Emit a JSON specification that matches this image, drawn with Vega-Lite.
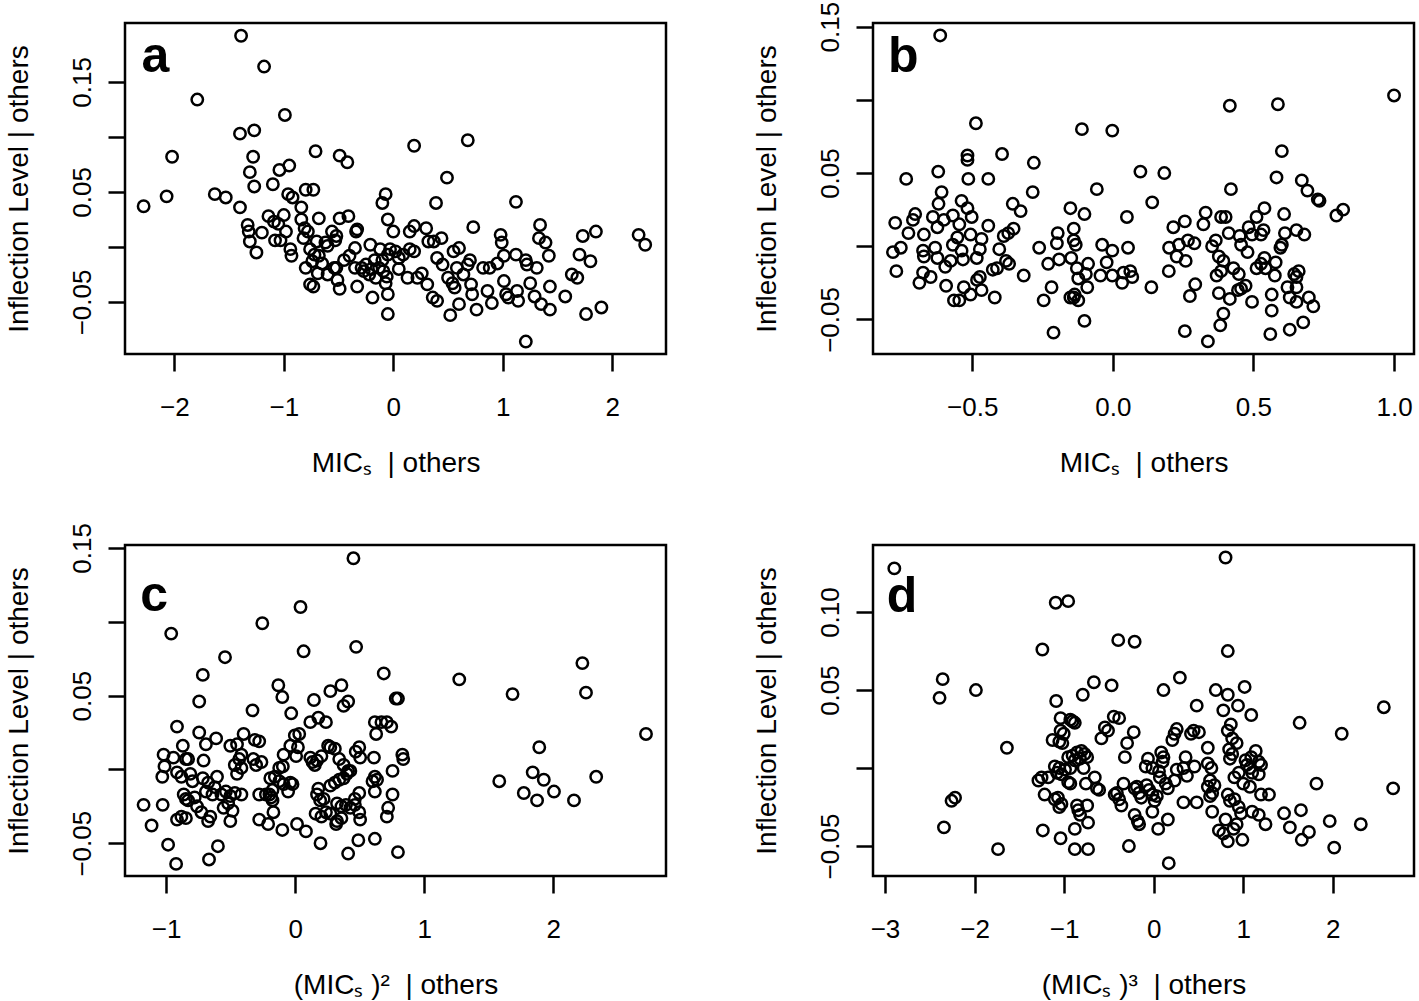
{
"$schema": "https://vega.github.io/schema/vega-lite/v6.json",
"background": "white",
"padding": {"left": 3, "top": 0, "right": 2, "bottom": 0},
"config": {
 "font": "Liberation Sans",
 "view": {"stroke": "black", "strokeWidth": 2.5},
 "axis": {"domain": false, "grid": false, "tickColor": "black", "tickWidth": 2.5, "tickSize": 17, "labelFont": "Liberation Sans", "labelFontSize": 26, "labelColor": "black", "titleFont": "Liberation Sans", "titleFontSize": 28, "titleFontWeight": "normal", "titleColor": "black", "labelOverlap": false, "labelFlush": false},
 "axisX": {"labelPadding": 23, "titlePadding": 29},
 "axisY": {"labelAngle": -90, "labelAlign": "center", "labelBaseline": "alphabetic", "labelPadding": 18, "titlePadding": 36}
},
"datasets": {
"a": [
{"x":-2.28,"y":0.037},{"x":-2.07,"y":0.046},{"x":-2.02,"y":0.082},{"x":-1.79,"y":0.134},{"x":-1.63,"y":0.048},{"x":-1.53,"y":0.045},{"x":-1.39,"y":0.192},{"x":-1.40,"y":0.103},{"x":-1.27,"y":0.106},{"x":-1.40,"y":0.036},{"x":-1.18,"y":0.164},{"x":-0.99,"y":0.120},{"x":-1.28,"y":0.082},{"x":-1.31,"y":0.068},{"x":-1.27,"y":0.055},{"x":-1.10,"y":0.057},{"x":-1.04,"y":0.070},{"x":-0.95,"y":0.074},{"x":-0.71,"y":0.087},{"x":-0.49,"y":0.083},{"x":-0.42,"y":0.077},{"x":0.19,"y":0.092},{"x":0.68,"y":0.097},{"x":0.49,"y":0.063},{"x":1.12,"y":0.041},{"x":0.39,"y":0.040},{"x":-0.07,"y":0.048},{"x":-0.10,"y":0.040},{"x":-0.80,"y":0.052},{"x":-0.73,"y":0.052},{"x":-0.96,"y":0.048},{"x":-0.92,"y":0.045},{"x":-0.84,"y":0.036},
{"x":-1.33,"y":0.020},{"x":-1.32,"y":0.014},{"x":-1.31,"y":0.005},{"x":-1.25,"y":-0.005},{"x":-1.20,"y":0.013},{"x":-1.14,"y":0.028},{"x":-1.09,"y":0.023},{"x":-1.00,"y":0.029},{"x":-1.05,"y":0.021},{"x":-0.98,"y":0.014},{"x":-1.08,"y":0.006},{"x":-1.03,"y":0.006},{"x":-0.94,"y":-0.002},{"x":-0.93,"y":-0.008},
{"x":-0.84,"y":0.025},{"x":-0.81,"y":0.017},{"x":-0.78,"y":0.014},{"x":-0.82,"y":0.008},{"x":-0.76,"y":-0.002},{"x":-0.72,"y":-0.007},{"x":-0.68,"y":-0.008},{"x":-0.74,"y":-0.013},{"x":-0.80,"y":-0.019},{"x":-0.69,"y":-0.024},{"x":-0.76,"y":-0.034},{"x":-0.73,"y":-0.036},{"x":-0.68,"y":0.026},{"x":-0.70,"y":0.005},{"x":-0.60,"y":0.001},{"x":-0.56,"y":0.014},{"x":-0.52,"y":0.010},{"x":-0.53,"y":0.006},{"x":-0.49,"y":0.026},{"x":-0.41,"y":0.028},{"x":-0.34,"y":0.014},{"x":-0.33,"y":0.016},{"x":-0.35,"y":-0.001},{"x":-0.40,"y":-0.008},{"x":-0.52,"y":-0.019},{"x":-0.51,"y":-0.030},{"x":-0.49,"y":-0.038},{"x":-0.33,"y":-0.036},{"x":-0.60,"y":-0.025},{"x":-0.54,"y":-0.019},{"x":-0.65,"y":-0.015},{"x":-0.62,"y":0.004},{"x":-0.45,"y":-0.012},
{"x":-0.35,"y":-0.019},{"x":-0.29,"y":-0.019},{"x":-0.25,"y":-0.016},{"x":-0.21,"y":0.002},{"x":-0.17,"y":-0.012},{"x":-0.12,"y":-0.002},{"x":-0.13,"y":-0.019},{"x":-0.09,"y":-0.022},{"x":-0.06,"y":-0.027},{"x":-0.05,"y":-0.007},{"x":-0.07,"y":-0.033},{"x":-0.03,"y":-0.002},{"x":0.02,"y":-0.004},{"x":0.05,"y":-0.010},{"x":0.09,"y":-0.007},{"x":0.15,"y":-0.002},{"x":0.19,"y":-0.004},{"x":0.13,"y":-0.028},{"x":0.22,"y":-0.028},{"x":0.26,"y":-0.024},{"x":0.31,"y":-0.034},{"x":0.36,"y":-0.046},{"x":0.40,"y":-0.049},{"x":0.32,"y":0.005},{"x":0.37,"y":0.005},{"x":0.44,"y":0.008},{"x":-0.05,"y":0.025},{"x":0.00,"y":0.014},{"x":0.15,"y":0.014},{"x":0.19,"y":0.019},{"x":0.30,"y":0.017},{"x":-0.05,"y":-0.043},{"x":-0.05,"y":-0.061},{"x":-0.19,"y":-0.046},{"x":-0.27,"y":-0.022},{"x":-0.22,"y":-0.025},{"x":-0.16,"y":-0.028},{"x":-0.20,"y":-0.020},{"x":-0.10,"y":-0.012},{"x":0.05,"y":-0.020},
{"x":0.40,"y":-0.010},{"x":0.45,"y":-0.016},{"x":0.50,"y":-0.028},{"x":0.54,"y":-0.033},{"x":0.56,"y":-0.037},{"x":0.52,"y":-0.062},{"x":0.60,"y":-0.052},{"x":0.55,"y":-0.004},{"x":0.60,"y":-0.001},{"x":0.58,"y":-0.019},{"x":0.64,"y":-0.025},{"x":0.68,"y":-0.016},{"x":0.70,"y":-0.012},{"x":0.73,"y":0.018},{"x":0.71,"y":-0.034},{"x":0.72,"y":-0.043},{"x":0.76,"y":-0.057},{"x":0.82,"y":-0.019},{"x":0.86,"y":-0.040},{"x":0.88,"y":-0.019},{"x":0.90,"y":-0.051},{"x":0.95,"y":-0.015},{"x":0.98,"y":0.011},{"x":0.99,"y":0.004},{"x":1.01,"y":-0.008},{"x":1.03,"y":-0.043},{"x":1.01,"y":-0.031},{"x":1.05,"y":-0.046},{"x":1.12,"y":-0.007},{"x":1.13,"y":-0.040},{"x":1.14,"y":-0.049},{"x":1.21,"y":-0.012},{"x":1.22,"y":-0.016},{"x":1.25,"y":-0.033},{"x":1.29,"y":-0.045},{"x":1.31,"y":-0.019},{"x":1.34,"y":0.020},{"x":1.33,"y":0.008},{"x":1.39,"y":0.004},{"x":1.42,"y":-0.008},{"x":1.35,"y":-0.052},{"x":1.43,"y":-0.057},{"x":1.43,"y":-0.036},{"x":1.21,"y":-0.086},
{"x":1.57,"y":-0.045},{"x":1.63,"y":-0.025},{"x":1.68,"y":-0.028},{"x":1.70,"y":-0.007},{"x":1.73,"y":0.010},{"x":1.80,"y":-0.013},{"x":1.85,"y":0.014},{"x":1.76,"y":-0.061},{"x":1.90,"y":-0.055},{"x":2.24,"y":0.011},{"x":2.30,"y":0.002}
],
"b": [
{"x":-0.614,"y":0.144},{"x":1.000,"y":0.103},{"x":0.416,"y":0.096},{"x":0.587,"y":0.097},{"x":-0.487,"y":0.084},{"x":-0.110,"y":0.080},{"x":-0.002,"y":0.079},{"x":0.601,"y":0.065},{"x":-0.517,"y":0.062},{"x":-0.517,"y":0.059},{"x":-0.394,"y":0.063},{"x":-0.281,"y":0.057},{"x":-0.735,"y":0.046},{"x":-0.621,"y":0.051},{"x":-0.514,"y":0.046},{"x":-0.443,"y":0.046},{"x":0.098,"y":0.051},{"x":0.183,"y":0.050},{"x":0.582,"y":0.047},{"x":0.672,"y":0.045},{"x":0.420,"y":0.039},{"x":0.692,"y":0.038},{"x":0.729,"y":0.032},{"x":0.735,"y":0.031},{"x":-0.057,"y":0.039},{"x":-0.285,"y":0.037},{"x":-0.609,"y":0.037},{"x":-0.620,"y":0.029},{"x":-0.538,"y":0.031},{"x":-0.517,"y":0.026},{"x":-0.502,"y":0.020},{"x":-0.356,"y":0.029},{"x":-0.328,"y":0.024},{"x":0.140,"y":0.030},{"x":-0.151,"y":0.026},{"x":-0.101,"y":0.022},{"x":0.050,"y":0.020},{"x":0.330,"y":0.023},{"x":0.385,"y":0.020},{"x":0.401,"y":0.020},{"x":0.539,"y":0.026},{"x":0.511,"y":0.020},{"x":0.609,"y":0.022},{"x":0.795,"y":0.021},{"x":0.819,"y":0.025},
{"x":-0.774,"y":0.016},{"x":-0.703,"y":0.022},{"x":-0.711,"y":0.018},{"x":-0.727,"y":0.009},{"x":-0.782,"y":-0.004},{"x":-0.754,"y":-0.001},{"x":-0.770,"y":-0.017},{"x":-0.640,"y":0.020},{"x":-0.624,"y":0.013},{"x":-0.672,"y":0.008},{"x":-0.675,"y":-0.003},{"x":-0.672,"y":-0.007},{"x":-0.632,"y":-0.001},{"x":-0.624,"y":-0.008},{"x":-0.675,"y":-0.018},{"x":-0.688,"y":-0.025},{"x":-0.648,"y":-0.021},{"x":-0.596,"y":-0.014},{"x":-0.593,"y":-0.027},{"x":-0.601,"y":0.018},{"x":-0.569,"y":0.021},{"x":-0.546,"y":0.015},{"x":-0.553,"y":0.006},{"x":-0.569,"y":0.001},{"x":-0.577,"y":-0.010},{"x":-0.538,"y":-0.003},{"x":-0.533,"y":-0.009},{"x":-0.506,"y":0.008},{"x":-0.467,"y":0.005},{"x":-0.443,"y":0.014},{"x":-0.473,"y":-0.002},{"x":-0.484,"y":-0.008},{"x":-0.473,"y":-0.021},{"x":-0.483,"y":-0.023},{"x":-0.467,"y":-0.030},{"x":-0.530,"y":-0.028},{"x":-0.506,"y":-0.033},{"x":-0.565,"y":-0.037},{"x":-0.546,"y":-0.037},{"x":-0.420,"y":-0.035},{"x":-0.427,"y":-0.016},{"x":-0.412,"y":-0.015},{"x":-0.404,"y":-0.002},{"x":-0.388,"y":0.007},{"x":-0.372,"y":0.009},{"x":-0.353,"y":0.012},{"x":-0.380,"y":-0.010},{"x":-0.369,"y":-0.012},{"x":-0.317,"y":-0.020},
{"x":-0.262,"y":-0.001},{"x":-0.230,"y":-0.012},{"x":-0.196,"y":0.009},{"x":-0.199,"y":0.002},{"x":-0.191,"y":-0.009},{"x":-0.139,"y":0.012},{"x":-0.139,"y":0.004},{"x":-0.132,"y":0.001},{"x":-0.148,"y":-0.008},{"x":-0.128,"y":-0.015},{"x":-0.123,"y":-0.022},{"x":-0.088,"y":-0.012},{"x":-0.096,"y":-0.019},{"x":-0.091,"y":-0.028},{"x":-0.218,"y":-0.028},{"x":-0.246,"y":-0.037},{"x":-0.151,"y":-0.035},{"x":-0.139,"y":-0.035},{"x":-0.123,"y":-0.037},{"x":-0.136,"y":-0.033},{"x":-0.101,"y":-0.051},{"x":-0.211,"y":-0.059},{"x":-0.038,"y":0.001},{"x":-0.002,"y":-0.003},{"x":-0.022,"y":-0.011},{"x":-0.044,"y":-0.020},{"x":-0.002,"y":-0.020},{"x":0.038,"y":-0.018},{"x":0.062,"y":-0.017},{"x":0.069,"y":-0.021},{"x":0.033,"y":-0.025},{"x":0.054,"y":-0.001},{"x":0.137,"y":-0.028},
{"x":0.199,"y":-0.017},{"x":0.200,"y":-0.001},{"x":0.215,"y":0.013},{"x":0.256,"y":0.017},{"x":0.235,"y":0.001},{"x":0.267,"y":0.004},{"x":0.290,"y":0.002},{"x":0.227,"y":-0.007},{"x":0.259,"y":-0.010},{"x":0.293,"y":-0.026},{"x":0.274,"y":-0.034},{"x":0.256,"y":-0.058},{"x":0.338,"y":-0.065},{"x":0.322,"y":0.015},{"x":0.353,"y":0.000},{"x":0.366,"y":0.004},{"x":0.377,"y":-0.007},{"x":0.393,"y":-0.010},{"x":0.369,"y":-0.020},{"x":0.385,"y":-0.017},{"x":0.377,"y":-0.032},{"x":0.416,"y":-0.036},{"x":0.393,"y":-0.046},{"x":0.382,"y":-0.054},{"x":0.412,"y":0.009},{"x":0.451,"y":0.007},{"x":0.456,"y":0.001},{"x":0.483,"y":0.013},{"x":0.495,"y":0.008},{"x":0.479,"y":-0.004},{"x":0.429,"y":-0.015},{"x":0.448,"y":-0.019},{"x":0.456,"y":-0.029},{"x":0.472,"y":-0.027},{"x":0.445,"y":-0.030},{"x":0.495,"y":-0.038},{"x":0.511,"y":-0.015},{"x":0.527,"y":-0.012},{"x":0.543,"y":-0.015},{"x":0.536,"y":0.011},{"x":0.527,"y":0.008},{"x":0.539,"y":-0.008},{"x":0.579,"y":-0.011},{"x":0.576,"y":-0.020},{"x":0.565,"y":-0.033},{"x":0.565,"y":-0.044},{"x":0.560,"y":-0.060},{"x":0.596,"y":-0.001},{"x":0.601,"y":0.001},{"x":0.612,"y":0.009},{"x":0.621,"y":-0.028},{"x":0.629,"y":-0.035},{"x":0.653,"y":0.011},{"x":0.681,"y":0.008},{"x":0.645,"y":-0.019},{"x":0.653,"y":-0.021},{"x":0.661,"y":-0.017},{"x":0.653,"y":-0.028},{"x":0.653,"y":-0.038},{"x":0.697,"y":-0.035},{"x":0.713,"y":-0.041},{"x":0.629,"y":-0.057},{"x":0.677,"y":-0.052}
],
"c": [
{"x":0.451,"y":0.143},{"x":0.041,"y":0.110},{"x":-0.255,"y":0.099},{"x":-0.961,"y":0.092},{"x":0.472,"y":0.083},{"x":0.065,"y":0.080},{"x":-0.544,"y":0.076},{"x":-0.716,"y":0.064},{"x":0.686,"y":0.065},{"x":1.271,"y":0.061},{"x":2.225,"y":0.072},{"x":1.684,"y":0.051},{"x":2.253,"y":0.052},{"x":2.718,"y":0.024},{"x":1.891,"y":0.015},{"x":1.581,"y":-0.008},{"x":1.771,"y":-0.016},{"x":1.840,"y":-0.002},{"x":1.926,"y":-0.007},{"x":2.005,"y":-0.015},{"x":1.874,"y":-0.021},{"x":2.160,"y":-0.021},{"x":2.332,"y":-0.005},{"x":0.779,"y":0.048},{"x":0.796,"y":0.048},{"x":0.358,"y":0.057},{"x":0.272,"y":0.053},{"x":0.145,"y":0.047},{"x":-0.131,"y":0.057},{"x":-0.100,"y":0.049},{"x":-0.744,"y":0.046},{"x":-0.331,"y":0.040},{"x":-0.031,"y":0.038},{"x":0.375,"y":0.043},{"x":0.410,"y":0.046},{"x":0.179,"y":0.035},{"x":0.117,"y":0.032},{"x":0.238,"y":0.032},{"x":0.617,"y":0.032},{"x":0.668,"y":0.032},{"x":0.710,"y":0.032},{"x":0.744,"y":0.029},{"x":0.627,"y":0.024},
{"x":-0.916,"y":0.029},{"x":-0.744,"y":0.025},{"x":-0.692,"y":0.017},{"x":-0.613,"y":0.021},{"x":-0.400,"y":0.024},{"x":-0.313,"y":0.020},{"x":-0.279,"y":0.019},{"x":-0.503,"y":0.016},{"x":-0.451,"y":0.017},{"x":-0.417,"y":0.010},{"x":-0.434,"y":0.007},{"x":-0.468,"y":0.003},{"x":-0.451,"y":-0.003},{"x":-0.417,"y":0.001},{"x":-0.871,"y":0.016},{"x":-1.020,"y":0.010},{"x":-1.013,"y":0.002},{"x":-1.030,"y":-0.005},{"x":-0.944,"y":0.008},{"x":-0.847,"y":0.007},{"x":-0.830,"y":0.007},{"x":-0.916,"y":-0.002},{"x":-0.882,"y":-0.005},{"x":-0.813,"y":-0.003},{"x":-0.796,"y":-0.008},{"x":-0.710,"y":0.006},{"x":-0.716,"y":-0.006},{"x":-0.675,"y":-0.009},{"x":-0.606,"y":-0.005},{"x":-0.624,"y":-0.012},{"x":-0.692,"y":-0.015},{"x":-0.641,"y":-0.017},{"x":-0.864,"y":-0.017},{"x":-0.830,"y":-0.021},{"x":-0.779,"y":-0.019},{"x":-0.847,"y":-0.020},{"x":-0.761,"y":-0.025},{"x":-0.727,"y":-0.029},{"x":-0.658,"y":-0.032},{"x":-0.675,"y":-0.035},{"x":-0.916,"y":-0.034},{"x":-0.882,"y":-0.032},{"x":-0.847,"y":-0.033},{"x":-0.572,"y":-0.017},{"x":-0.537,"y":-0.015},{"x":-0.503,"y":-0.018},{"x":-0.520,"y":-0.023},{"x":-0.486,"y":-0.028},{"x":-0.503,"y":-0.035},{"x":-0.555,"y":-0.026},{"x":-0.468,"y":-0.016},{"x":-0.417,"y":-0.017},{"x":-1.027,"y":-0.024},{"x":-1.175,"y":-0.024},{"x":-1.113,"y":-0.038},{"x":-0.985,"y":-0.051},{"x":-0.923,"y":-0.064},{"x":-0.668,"y":-0.061},{"x":-0.599,"y":-0.052},
{"x":-0.324,"y":0.007},{"x":-0.303,"y":0.003},{"x":-0.262,"y":0.005},{"x":-0.279,"y":-0.017},{"x":-0.227,"y":-0.017},{"x":-0.200,"y":-0.017},{"x":-0.176,"y":-0.014},{"x":-0.193,"y":-0.006},{"x":-0.158,"y":-0.005},{"x":-0.124,"y":0.001},{"x":-0.096,"y":0.002},{"x":-0.176,"y":-0.021},{"x":-0.186,"y":-0.019},{"x":-0.124,"y":-0.008},{"x":-0.090,"y":-0.010},{"x":-0.055,"y":-0.015},{"x":-0.038,"y":-0.009},{"x":-0.021,"y":-0.010},{"x":-0.169,"y":-0.029},{"x":-0.210,"y":-0.037},{"x":-0.279,"y":-0.034},{"x":-0.100,"y":-0.041},{"x":0.014,"y":-0.037},{"x":0.083,"y":-0.042},{"x":-0.090,"y":0.010},{"x":-0.038,"y":0.016},{"x":0.021,"y":0.015},{"x":-0.003,"y":0.023},{"x":0.031,"y":0.024},{"x":0.007,"y":0.009},{"x":0.117,"y":0.008},{"x":0.152,"y":0.003},{"x":0.134,"y":0.005},{"x":0.169,"y":0.006},{"x":0.203,"y":0.009},{"x":0.179,"y":-0.013},{"x":0.169,"y":-0.017},{"x":0.193,"y":-0.021},{"x":0.220,"y":-0.020},{"x":0.238,"y":-0.029},{"x":0.158,"y":-0.030},{"x":0.203,"y":-0.032},{"x":0.272,"y":-0.030},
{"x":0.255,"y":0.016},{"x":0.272,"y":0.015},{"x":0.307,"y":0.014},{"x":0.341,"y":0.007},{"x":0.375,"y":0.003},{"x":0.410,"y":-0.001},{"x":0.272,"y":-0.011},{"x":0.307,"y":-0.009},{"x":0.341,"y":-0.007},{"x":0.375,"y":-0.006},{"x":0.400,"y":-0.003},{"x":0.427,"y":-0.001},{"x":0.324,"y":-0.023},{"x":0.358,"y":-0.025},{"x":0.393,"y":-0.024},{"x":0.427,"y":-0.026},{"x":0.462,"y":-0.024},{"x":0.496,"y":-0.029},{"x":0.503,"y":-0.034},{"x":0.324,"y":-0.035},{"x":0.358,"y":-0.033},{"x":0.317,"y":-0.037},{"x":0.462,"y":-0.020},{"x":0.496,"y":-0.016},{"x":0.469,"y":0.012},{"x":0.496,"y":0.015},{"x":0.503,"y":0.008},{"x":0.610,"y":0.008},{"x":0.617,"y":-0.005},{"x":0.634,"y":-0.007},{"x":0.599,"y":-0.008},{"x":0.617,"y":-0.015},{"x":0.754,"y":-0.001},{"x":0.754,"y":-0.017},{"x":0.720,"y":-0.026},{"x":0.710,"y":-0.032},{"x":0.830,"y":0.010},{"x":0.837,"y":0.007},{"x":0.196,"y":-0.050},{"x":0.410,"y":-0.057},{"x":0.489,"y":-0.048},{"x":0.617,"y":-0.047},{"x":0.796,"y":-0.056}
],
"d": [
{"x":-2.896,"y":0.128},{"x":0.802,"y":0.135},{"x":-1.094,"y":0.106},{"x":-0.955,"y":0.107},{"x":-1.243,"y":0.076},{"x":-0.396,"y":0.082},{"x":-0.213,"y":0.081},{"x":0.827,"y":0.075},{"x":-2.356,"y":0.057},{"x":-2.391,"y":0.045},{"x":-1.985,"y":0.050},{"x":-0.668,"y":0.055},{"x":-0.470,"y":0.053},{"x":0.292,"y":0.058},{"x":0.109,"y":0.050},{"x":0.693,"y":0.050},{"x":0.827,"y":0.047},{"x":1.015,"y":0.052},{"x":-0.792,"y":0.047},{"x":-1.089,"y":0.043},{"x":0.480,"y":0.040},{"x":0.777,"y":0.037},{"x":0.941,"y":0.040},{"x":1.089,"y":0.034},{"x":1.629,"y":0.029},{"x":2.569,"y":0.039},{"x":2.099,"y":0.022},{"x":2.673,"y":-0.013},{"x":1.817,"y":-0.010},{"x":-1.639,"y":0.013},{"x":-2.257,"y":-0.021},{"x":-2.218,"y":-0.019},{"x":-2.342,"y":-0.038},{"x":-1.738,"y":-0.052},
{"x":-1.040,"y":0.032},{"x":-0.931,"y":0.031},{"x":-0.881,"y":0.029},{"x":-0.906,"y":0.030},{"x":-1.040,"y":0.024},{"x":-1.005,"y":0.022},{"x":-1.054,"y":0.017},{"x":-1.129,"y":0.018},{"x":-1.020,"y":0.016},{"x":-0.446,"y":0.033},{"x":-0.386,"y":0.032},{"x":-0.545,"y":0.026},{"x":-0.510,"y":0.024},{"x":-0.584,"y":0.019},{"x":-0.223,"y":0.023},{"x":-0.297,"y":0.016},{"x":-0.322,"y":0.007},{"x":0.257,"y":0.025},{"x":0.233,"y":0.022},{"x":0.208,"y":0.018},{"x":0.416,"y":0.022},{"x":0.446,"y":0.024},{"x":0.505,"y":0.023},{"x":0.827,"y":0.024},{"x":0.861,"y":0.028},{"x":0.876,"y":0.019},{"x":0.926,"y":0.016},{"x":0.604,"y":0.013},{"x":0.842,"y":0.012},{"x":0.876,"y":0.009},{"x":0.851,"y":0.006},{"x":1.139,"y":0.011},{"x":1.089,"y":0.007},{"x":1.173,"y":0.004},{"x":1.198,"y":0.002},{"x":1.025,"y":0.005},
{"x":-0.955,"y":0.007},{"x":-0.906,"y":0.008},{"x":-0.856,"y":0.010},{"x":-0.807,"y":0.011},{"x":-0.772,"y":0.009},{"x":-0.743,"y":0.007},{"x":-0.822,"y":0.006},{"x":-0.881,"y":0.005},{"x":-1.104,"y":0.001},{"x":-1.054,"y":0.000},{"x":-1.079,"y":-0.003},{"x":-1.030,"y":-0.004},{"x":-0.990,"y":-0.001},{"x":-0.931,"y":0.000},{"x":-0.955,"y":-0.009},{"x":-0.931,"y":-0.010},{"x":-0.782,"y":0.000},{"x":-0.757,"y":-0.010},{"x":-0.658,"y":-0.006},{"x":-0.609,"y":-0.014},{"x":-0.634,"y":-0.013},{"x":-1.287,"y":-0.008},{"x":-1.252,"y":-0.006},{"x":-1.178,"y":-0.006},{"x":-1.218,"y":-0.017},{"x":-1.238,"y":-0.040},{"x":-1.104,"y":-0.020},{"x":-1.069,"y":-0.019},{"x":-1.030,"y":-0.023},{"x":-1.054,"y":-0.025},{"x":-0.856,"y":-0.024},{"x":-0.842,"y":-0.027},{"x":-0.822,"y":-0.030},{"x":-0.743,"y":-0.024},{"x":-0.733,"y":-0.035},{"x":-0.881,"y":-0.039},{"x":-1.040,"y":-0.045},{"x":-0.881,"y":-0.052},{"x":-0.733,"y":-0.052},
{"x":-0.337,"y":-0.010},{"x":-0.411,"y":-0.016},{"x":-0.436,"y":-0.017},{"x":-0.386,"y":-0.020},{"x":-0.361,"y":-0.024},{"x":-0.213,"y":-0.013},{"x":-0.163,"y":-0.016},{"x":-0.139,"y":-0.019},{"x":-0.188,"y":-0.012},{"x":-0.079,"y":-0.011},{"x":-0.050,"y":-0.014},{"x":-0.015,"y":-0.017},{"x":0.010,"y":-0.021},{"x":0.035,"y":-0.018},{"x":-0.015,"y":-0.028},{"x":-0.213,"y":-0.030},{"x":-0.178,"y":-0.034},{"x":-0.163,"y":-0.036},{"x":-0.277,"y":-0.050},{"x":0.050,"y":-0.039},{"x":0.158,"y":-0.033},{"x":0.168,"y":-0.061},{"x":-0.064,"y":0.006},{"x":-0.015,"y":0.000},{"x":-0.089,"y":0.001},{"x":0.084,"y":0.010},{"x":0.109,"y":0.007},{"x":0.099,"y":0.004},{"x":0.059,"y":-0.002},{"x":0.069,"y":-0.006},{"x":0.134,"y":-0.010},{"x":0.158,"y":-0.013},{"x":0.233,"y":-0.008},{"x":0.257,"y":-0.001},{"x":0.332,"y":0.000},{"x":0.371,"y":-0.005},{"x":0.356,"y":0.007},{"x":0.332,"y":-0.022},{"x":0.480,"y":-0.022},{"x":0.455,"y":0.001},
{"x":0.604,"y":0.003},{"x":0.644,"y":0.000},{"x":0.629,"y":-0.008},{"x":0.604,"y":-0.012},{"x":0.653,"y":-0.016},{"x":0.678,"y":-0.011},{"x":0.629,"y":-0.018},{"x":0.653,"y":-0.028},{"x":0.728,"y":-0.040},{"x":0.777,"y":-0.042},{"x":0.802,"y":-0.033},{"x":0.827,"y":-0.047},{"x":0.891,"y":-0.039},{"x":0.926,"y":-0.036},{"x":0.990,"y":-0.046},{"x":0.827,"y":-0.017},{"x":0.851,"y":-0.021},{"x":0.901,"y":-0.020},{"x":0.950,"y":-0.025},{"x":0.975,"y":-0.029},{"x":0.901,"y":-0.006},{"x":0.950,"y":-0.003},{"x":1.000,"y":-0.010},{"x":1.074,"y":-0.012},{"x":1.099,"y":-0.003},{"x":1.173,"y":-0.004},{"x":1.099,"y":-0.028},{"x":1.173,"y":-0.030},{"x":1.248,"y":-0.036},{"x":1.198,"y":-0.017},{"x":1.287,"y":-0.017},{"x":1.040,"y":0.002},{"x":1.074,"y":0.000},{"x":1.455,"y":-0.029},{"x":1.520,"y":-0.038},{"x":1.644,"y":-0.027},{"x":1.653,"y":-0.046},{"x":1.733,"y":-0.041},{"x":1.965,"y":-0.034},{"x":2.015,"y":-0.051},{"x":2.312,"y":-0.036}
]
},
"columns": 2,
"spacing": {"row": 191, "column": 207},
"bounds": "flush",
"concat": [
{
 "width": 541, "height": 331,
 "layer": [
  {"data": {"name": "a"},
   "mark": {"type": "point", "shape": "circle", "filled": false, "stroke": "black", "strokeWidth": 2.5, "size": 130, "opacity": 1},
   "encoding": {
    "x": {"field": "x", "type": "quantitative", "scale": {"domain": [-2.45, 2.49], "nice": false, "zero": false}, "axis": {"values": [-2, -1, 0, 1, 2], "format": "d", "title": "MICₛ\u00a0\u00a0| others"}},
    "y": {"field": "y", "type": "quantitative", "scale": {"domain": [-0.0973, 0.2036], "nice": false, "zero": false}, "axis": {"values": [-0.05, 0, 0.05, 0.1, 0.15], "format": ".2f", "labelExpr": "abs(datum.value) < 1e-6 || abs(datum.value - 0.1) < 1e-6 ? '' : datum.label", "title": "Inflection Level | others"}}
   }},
  {"data": {"values": [{}]},
   "mark": {"type": "text", "text": "a", "align": "left", "baseline": "alphabetic", "fontSize": 50, "fontWeight": "bold", "font": "Liberation Sans", "color": "black"},
   "encoding": {"x": {"datum": -2.30, "type": "quantitative"}, "y": {"datum": 0.159, "type": "quantitative"}}}
 ]
},
{
 "width": 541, "height": 331,
 "layer": [
  {"data": {"name": "b"},
   "mark": {"type": "point", "shape": "circle", "filled": false, "stroke": "black", "strokeWidth": 2.5, "size": 130, "opacity": 1},
   "encoding": {
    "x": {"field": "x", "type": "quantitative", "scale": {"domain": [-0.853, 1.071], "nice": false, "zero": false}, "axis": {"values": [-0.5, 0, 0.5, 1], "format": ".1f", "title": "MICₛ\u00a0\u00a0| others"}},
    "y": {"field": "y", "type": "quantitative", "scale": {"domain": [-0.0736, 0.1525], "nice": false, "zero": false}, "axis": {"values": [-0.05, 0, 0.05, 0.1, 0.15], "format": ".2f", "labelExpr": "abs(datum.value) < 1e-6 || abs(datum.value - 0.1) < 1e-6 ? '' : datum.label", "title": "Inflection Level | others"}}
   }},
  {"data": {"values": [{}]},
   "mark": {"type": "text", "text": "b", "align": "left", "baseline": "alphabetic", "fontSize": 50, "fontWeight": "bold", "font": "Liberation Sans", "color": "black"},
   "encoding": {"x": {"datum": -0.80, "type": "quantitative"}, "y": {"datum": 0.119, "type": "quantitative"}}}
 ]
},
{
 "width": 541, "height": 331,
 "layer": [
  {"data": {"name": "c"},
   "mark": {"type": "point", "shape": "circle", "filled": false, "stroke": "black", "strokeWidth": 2.5, "size": 130, "opacity": 1},
   "encoding": {
    "x": {"field": "x", "type": "quantitative", "scale": {"domain": [-1.319, 2.873], "nice": false, "zero": false}, "axis": {"values": [-1, 0, 1, 2], "format": "d", "title": "(MICₛ\u00a0)²\u00a0\u00a0| others"}},
    "y": {"field": "y", "type": "quantitative", "scale": {"domain": [-0.0722, 0.152], "nice": false, "zero": false}, "axis": {"values": [-0.05, 0, 0.05, 0.1, 0.15], "format": ".2f", "labelExpr": "abs(datum.value) < 1e-6 || abs(datum.value - 0.1) < 1e-6 ? '' : datum.label", "title": "Inflection Level | others"}}
   }},
  {"data": {"values": [{}]},
   "mark": {"type": "text", "text": "c", "align": "left", "baseline": "alphabetic", "fontSize": 50, "fontWeight": "bold", "font": "Liberation Sans", "color": "black"},
   "encoding": {"x": {"datum": -1.20, "type": "quantitative"}, "y": {"datum": 0.107, "type": "quantitative"}}}
 ]
},
{
 "width": 541, "height": 331,
 "layer": [
  {"data": {"name": "d"},
   "mark": {"type": "point", "shape": "circle", "filled": false, "stroke": "black", "strokeWidth": 2.5, "size": 130, "opacity": 1},
   "encoding": {
    "x": {"field": "x", "type": "quantitative", "scale": {"domain": [-3.134, 2.906], "nice": false, "zero": false}, "axis": {"values": [-3, -2, -1, 0, 1, 2], "format": "d", "title": "(MICₛ\u00a0)³\u00a0\u00a0| others"}},
    "y": {"field": "y", "type": "quantitative", "scale": {"domain": [-0.0692, 0.143], "nice": false, "zero": false}, "axis": {"values": [-0.05, 0, 0.05, 0.1], "format": ".2f", "labelExpr": "abs(datum.value) < 1e-6 ? '' : datum.label", "title": "Inflection Level | others"}}
   }},
  {"data": {"values": [{}]},
   "mark": {"type": "text", "text": "d", "align": "left", "baseline": "alphabetic", "fontSize": 50, "fontWeight": "bold", "font": "Liberation Sans", "color": "black"},
   "encoding": {"x": {"datum": -2.98, "type": "quantitative"}, "y": {"datum": 0.0998, "type": "quantitative"}}}
 ]
}
]
}
